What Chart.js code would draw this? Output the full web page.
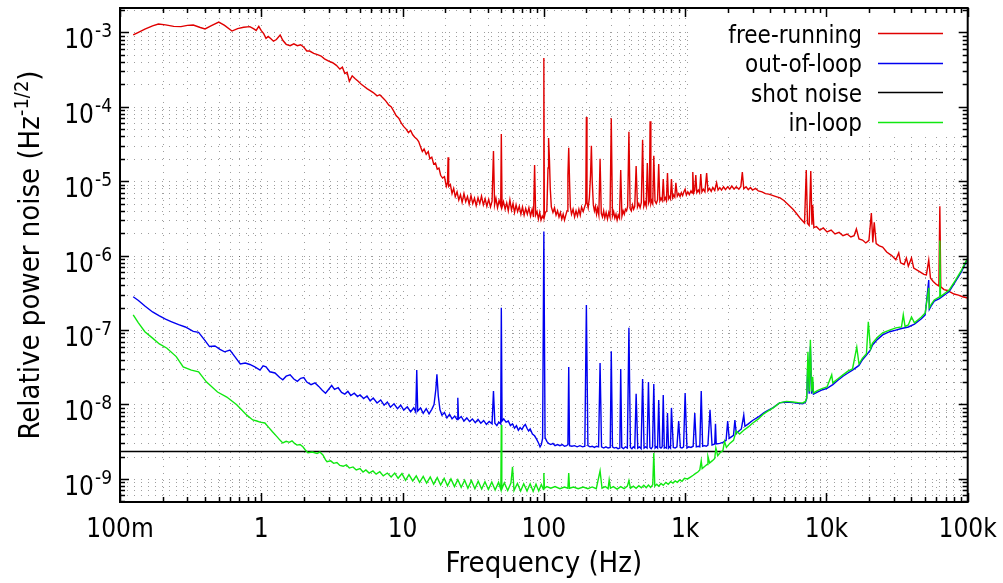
<!DOCTYPE html>
<html><head><meta charset="utf-8">
<script src="https://cdn.jsdelivr.net/npm/chart.js@4/dist/chart.umd.min.js"></script>
<style>html,body{margin:0;padding:0;background:#fff;}canvas{display:block;}</style>
</head><body>
<canvas id="c" width="1003" height="583"></canvas>
<script>
// ---------------- DATA (frequency in Hz, relative power noise in Hz^-1/2) ----------------
const seriesNames = ['free-running', 'out-of-loop', 'shot noise', 'in-loop'];

const freeRunning = [
[0.124,9.2e-4],[0.135,1.0e-3],[0.15,1.1e-3],[0.17,1.22e-3],[0.187,1.29e-3],[0.21,1.26e-3],[0.24,1.2e-3],[0.27,1.19e-3],
[0.30,1.24e-3],[0.33,1.25e-3],[0.37,1.16e-3],[0.40,1.11e-3],[0.44,1.22e-3],[0.50,1.37e-3],[0.55,1.24e-3],[0.62,1.04e-3],
[0.68,1.12e-3],[0.75,1.17e-3],[0.83,1.19e-3],[0.88,1.12e-3],[0.92,1.06e-3],[0.96,1.2e-3],[1.0,1.05e-3],[1.04,9.6e-4],
[1.08,8.3e-4],[1.12,8.8e-4],[1.17,8.2e-4],[1.22,7.6e-4],[1.28,8.0e-4],[1.36,9.2e-4],[1.42,7.8e-4],[1.5,6.9e-4],
[1.6,6.6e-4],[1.7,7.0e-4],[1.8,6.6e-4],[1.9,6.8e-4],[2.0,6.3e-4],[2.1,5.6e-4],[2.2,5.6e-4],[2.35,5.2e-4],[2.5,5.0e-4],
[2.65,4.8e-4],[2.8,4.4e-4],[3.0,4.1e-4],[3.2,3.9e-4],[3.4,3.6e-4],[3.6,3.2e-4],[3.75,3.4e-4],[3.9,2.8e-4],[4.05,2.9e-4],
[4.2,2.2e-4],[4.4,2.6e-4],[4.6,2.4e-4],[4.85,2.2e-4],[5.1,2.0e-4],[5.3,1.9e-4],[5.6,1.75e-4],[5.9,1.65e-4],[6.2,1.55e-4],
[6.6,1.4e-4],[6.9,1.45e-4],[7.3,1.3e-4],[7.6,1.2e-4],[8.0,1.05e-4],[8.3,1.0e-4],[8.7,8.6e-5],[9.0,7.6e-5],[9.4,7.0e-5],
[9.8,6.0e-5],[10.2,5.4e-5],[10.6,5.0e-5],[11.0,4.5e-5],[11.4,4.8e-5],[11.8,4.2e-5],[12.2,3.9e-5],[12.6,3.7e-5],[13.0,3.4e-5],
[13.4,2.9e-5],[13.8,2.5e-5],[14.2,2.7e-5],[14.7,2.3e-5],[15.2,2.5e-5],[15.6,2.0e-5],[16.1,2.1e-5],[16.6,1.7e-5],[17.1,1.75e-5],
[17.6,1.45e-5],[18.1,1.5e-5],[18.6,1.2e-5],[19.2,1.1e-5],[19.8,1.15e-5],[20.4,8.5e-6],[20.8,9.5e-6],[21.0,2.1e-5],[21.2,8.5e-6],
[21.8,9.0e-6],[22.4,6.8e-6],[23.0,8.0e-6],[23.6,6.2e-6],[24.3,7.2e-6],[25.0,5.6e-6],[25.7,6.6e-6],[26.4,5.2e-6],[27.2,6.8e-6],
[28.0,5.3e-6],[28.8,6.2e-6],[29.6,4.9e-6],[30.5,6.4e-6],[31.4,5.0e-6],[32.3,5.9e-6],[33.2,4.7e-6],[34.2,6.0e-6],[35.2,5.0e-6],
[36.2,6.3e-6],[37.3,4.8e-6],[38.4,5.8e-6],[39.5,4.6e-6],[40.7,5.7e-6],[41.9,4.5e-6],[43.0,5.4e-6],[44.0,2.55e-5],[44.8,4.8e-6],
[45.8,5.9e-6],[47.0,4.4e-6],[48.2,5.5e-6],[49.5,4.7e-6],[50.0,4.3e-5],[50.6,4.5e-6],[51.8,5.3e-6],[53.2,4.2e-6],[54.6,5.1e-6],
[56.0,4.0e-6],[57.5,5.6e-6],[59.0,4.1e-6],[60.5,5.0e-6],[62.0,3.8e-6],[63.6,4.8e-6],[65.2,3.9e-6],[67.0,4.6e-6],[68.8,3.6e-6],
[70.6,4.5e-6],[72.5,3.5e-6],[74.4,4.3e-6],[76.4,3.6e-6],[78.4,4.4e-6],[80.5,3.4e-6],[82.6,4.2e-6],[84.5,3.3e-6],[86.0,1.65e-5],
[87.5,3.5e-6],[89.5,3.9e-6],[91.5,3.1e-6],[93.5,3.8e-6],[95.5,3.0e-6],[97.5,3.4e-6],[99.3,3.2e-6],[100,4.5e-4],[100.8,3.3e-6],
[102.5,3.8e-6],[105,4.0e-6],[107,1.5e-5],[108,3.8e-5],[109.5,2.0e-5],[111,8e-6],[113,4.5e-6],[116,3.8e-6],[119,4.4e-6],
[122,3.5e-6],[125,4.0e-6],[128,3.3e-6],[131,3.8e-6],[134,3.1e-6],[137,3.6e-6],[140,3.0e-6],[143,3.5e-6],[146,4.0e-6],
[148,1.2e-5],[150,2.8e-5],[152,1.0e-5],[154,4.5e-6],[157,3.6e-6],[161,4.2e-6],[165,3.3e-6],[169,4.0e-6],[173,3.4e-6],
[177,4.2e-6],[181,3.5e-6],[185,4.5e-6],[190,3.9e-6],[195,4.6e-6],[198,5.0e-6],[200,7.3e-5],[202,5.2e-6],[206,4.4e-6],
[210,6.0e-6],[214,1.2e-5],[217,3.0e-5],[220,1.0e-5],[224,4.8e-6],[228,4.0e-6],[232,4.6e-6],[236,3.6e-6],[240,4.3e-6],
[245,3.5e-6],[250,2.0e-5],[255,3.7e-6],[260,3.3e-6],[265,4.0e-6],[270,3.2e-6],[276,3.8e-6],[282,3.1e-6],[288,3.8e-6],
[294,3.3e-6],[300,7.0e-5],[306,3.4e-6],[312,3.9e-6],[318,3.2e-6],[324,3.6e-6],[330,3.0e-6],[336,3.5e-6],[343,3.2e-6],
[350,1.41e-5],[357,3.4e-6],[364,4.0e-6],[371,3.6e-6],[378,4.2e-6],[385,4.0e-6],[392,4.6e-6],[400,4.6e-5],[408,4.3e-6],
[416,4.0e-6],[424,4.8e-6],[432,4.2e-6],[440,4.6e-6],[450,1.6e-5],[460,4.5e-6],[470,5.0e-6],[480,4.4e-6],[490,5.2e-6],
[500,3.6e-5],[510,4.6e-6],[520,5.2e-6],[530,4.6e-6],[540,1.75e-5],[550,5.0e-6],[558,5.4e-6],[565,6.4e-5],[572,5.0e-6],
[580,5.5e-6],[590,5.0e-6],[600,2.2e-5],[612,5.4e-6],[625,5.0e-6],[638,5.6e-6],[650,1.7e-5],[662,5.4e-6],[675,5.9e-6],
[688,5.5e-6],[700,1.07e-5],[712,5.6e-6],[725,6.0e-6],[737,5.5e-6],[750,1.29e-5],[762,5.8e-6],[775,6.2e-6],[787,5.8e-6],
[800,1.07e-5],[815,6.0e-6],[830,6.5e-6],[845,6.1e-6],[860,9.5e-6],[880,6.3e-6],[900,6.8e-6],[920,6.2e-6],[940,7.0e-6],
[960,6.4e-6],[980,7.2e-6],[1000,7.8e-6],[1020,6.5e-6],[1045,7.2e-6],[1070,6.6e-6],[1100,7.4e-6],[1120,6.9e-6],[1133,1.33e-5],
[1150,7.0e-6],[1170,7.6e-6],[1190,1.21e-5],[1210,7.0e-6],[1240,7.6e-6],[1265,7.0e-6],[1290,1.25e-5],[1315,7.2e-6],[1345,7.8e-6],
[1380,7.2e-6],[1420,1.29e-5],[1450,7.4e-6],[1490,8.0e-6],[1530,7.3e-6],[1570,8.2e-6],[1620,7.5e-6],[1670,9.5e-6],[1710,7.6e-6],
[1760,8.2e-6],[1810,7.6e-6],[1870,8.4e-6],[1930,7.7e-6],[2000,8.4e-6],[2070,7.8e-6],[2140,8.6e-6],[2220,7.8e-6],[2300,8.4e-6],
[2400,7.8e-6],[2480,8.5e-6],[2540,1.33e-5],[2600,7.9e-6],[2700,8.4e-6],[2800,7.7e-6],[2900,8.2e-6],[3000,7.6e-6],[3150,8.0e-6],
[3300,7.4e-6],[3500,7.2e-6],[3700,6.8e-6],[3900,6.7e-6],[4100,6.5e-6],[4400,6.2e-6],[4700,5.95e-6],[5000,5.5e-6],[5400,4.8e-6],
[5800,4.2e-6],[6100,3.74e-6],[6500,3.2e-6],[7000,2.75e-6],[7200,1.41e-5],[7350,2.7e-6],[7550,2.55e-6],[7750,1.37e-5],[7900,2.6e-6],
[8000,4.8e-6],[8150,2.38e-6],[8500,2.45e-6],[9000,2.2e-6],[9500,2.35e-6],[10100,2.08e-6],[10800,2.2e-6],[11500,1.95e-6],
[12300,2.05e-6],[13100,1.85e-6],[14000,1.95e-6],[14900,1.78e-6],[15700,1.85e-6],[16300,2.28e-6],[17000,1.68e-6],[18000,1.62e-6],
[19000,1.48e-6],[20000,1.6e-6],[20800,3.74e-6],[21300,1.5e-6],[21800,2.8e-6],[22500,1.45e-6],[23700,1.35e-6],[25000,1.3e-6],
[26700,1.12e-6],[29000,1.0e-6],[31000,8.8e-7],[32500,1.09e-6],[33500,8.0e-7],[35500,7.6e-7],[36800,9.3e-7],[38000,7.2e-7],
[40000,9.3e-7],[41500,6.8e-7],[45000,6.2e-7],[49000,5.6e-7],[51000,5.5e-7],[53000,8.7e-7],[54500,5.0e-7],[57000,4.5e-7],
[60000,4.1e-7],[62500,3.9e-7],[63500,4.6e-6],[64500,3.8e-7],[68000,3.5e-7],[72000,3.4e-7],[75000,3.25e-7],[80000,3.05e-7],
[86000,2.95e-7],[92000,2.8e-7],[100000,2.7e-7]
];

const outOfLoop = [
[0.124,2.8e-7],[0.135,2.5e-7],[0.15,2.1e-7],[0.17,1.75e-7],[0.19,1.55e-7],[0.21,1.4e-7],[0.23,1.3e-7],[0.26,1.18e-7],
[0.29,1.1e-7],[0.33,9.6e-8],[0.36,9.3e-8],[0.40,7.2e-8],[0.43,6.0e-8],[0.47,6.1e-8],[0.51,5.5e-8],[0.55,5.1e-8],[0.60,5.4e-8],
[0.65,4.4e-8],[0.71,3.5e-8],[0.77,3.6e-8],[0.83,3.45e-8],[0.90,3.2e-8],[0.98,2.9e-8],[1.03,3.3e-8],[1.08,3.2e-8],[1.15,2.75e-8],
[1.25,2.65e-8],[1.35,2.3e-8],[1.42,2.15e-8],[1.5,2.4e-8],[1.6,2.5e-8],[1.7,2.2e-8],[1.8,2.05e-8],[1.9,2.25e-8],[2.0,2.3e-8],
[2.1,2.0e-8],[2.25,1.85e-8],[2.4,1.95e-8],[2.55,1.75e-8],[2.7,1.55e-8],[2.85,1.42e-8],[3.0,1.6e-8],[3.15,1.8e-8],[3.3,1.6e-8],
[3.5,1.68e-8],[3.7,1.45e-8],[3.9,1.38e-8],[4.1,1.5e-8],[4.3,1.32e-8],[4.55,1.42e-8],[4.8,1.28e-8],[5.0,1.35e-8],[5.3,1.2e-8],
[5.6,1.3e-8],[5.9,1.12e-8],[6.2,1.22e-8],[6.6,1.05e-8],[7.0,1.15e-8],[7.4,9.8e-9],[7.8,1.08e-8],[8.2,9.2e-9],[8.7,1.02e-8],
[9.2,8.8e-9],[9.7,9.8e-9],[10.2,8.4e-9],[10.8,9.3e-9],[11.4,8.0e-9],[12.0,9.0e-9],[12.4,7.9e-9],[12.6,2.9e-8],[12.8,8.2e-9],
[13.4,9.0e-9],[14.0,7.6e-9],[14.7,8.8e-9],[15.4,7.5e-9],[16.1,8.6e-9],[16.7,1.0e-8],[17.2,1.6e-8],[17.5,2.55e-8],[17.9,1.3e-8],
[18.4,8.5e-9],[19.0,7.2e-9],[19.8,7.8e-9],[20.6,6.6e-9],[21.5,7.4e-9],[22.4,6.4e-9],[23.4,7.0e-9],[24.3,6.3e-9],[24.6,1.23e-8],
[24.9,6.4e-9],[26.0,6.9e-9],[27.2,6.0e-9],[28.5,6.6e-9],[29.8,5.9e-9],[31.2,6.4e-9],[32.7,5.7e-9],[34.2,6.3e-9],[35.8,5.6e-9],
[37.5,6.1e-9],[39.2,5.4e-9],[41.0,5.9e-9],[43.0,5.5e-9],[44.0,1.52e-8],[45.0,5.6e-9],[46.5,5.2e-9],[48.0,5.8e-9],[49.5,5.5e-9],
[50.0,2.0e-7],[50.6,6.0e-9],[52,6.4e-9],[54,5.8e-9],[56,6.0e-9],[58,5.2e-9],[60,5.5e-9],[62,4.8e-9],[64,5.2e-9],[66,4.5e-9],
[68,4.9e-9],[70,4.6e-9],[72,5.1e-9],[74,5.4e-9],[76,4.8e-9],[78,4.4e-9],[80,4.7e-9],[83,4.0e-9],[86,3.8e-9],[89,3.4e-9],
[92,3.0e-9],[94,2.7e-9],[96,2.9e-9],[98,3.5e-9],[100,2.1e-6],[102,3.6e-9],[105,3.2e-9],[108,3.0e-9],[112,2.9e-9],[116,3.0e-9],
[120,2.8e-9],[125,2.9e-9],[130,2.8e-9],[135,2.9e-9],[140,2.75e-9],[145,2.8e-9],[148,2.9e-9],[150,3.2e-8],[152,2.8e-9],
[158,2.75e-9],[165,2.8e-9],[172,2.7e-9],[180,2.8e-9],[188,2.7e-9],[195,2.75e-9],[200,2.17e-7],[205,2.8e-9],[212,2.7e-9],
[220,2.75e-9],[228,2.65e-9],[236,2.75e-9],[244,2.7e-9],[250,3.6e-8],[256,2.7e-9],[265,2.6e-9],[275,2.7e-9],[285,2.6e-9],
[295,2.65e-9],[300,5.2e-8],[306,2.7e-9],[315,2.6e-9],[325,2.65e-9],[335,2.55e-9],[345,2.6e-9],[350,3.0e-8],[356,2.65e-9],
[366,2.55e-9],[378,2.7e-9],[390,2.6e-9],[400,1.07e-7],[410,2.65e-9],[420,2.55e-9],[430,2.7e-9],[440,2.6e-9],[450,1.39e-8],
[462,2.6e-9],[475,2.7e-9],[488,2.55e-9],[500,2.2e-8],[512,2.6e-9],[525,2.7e-9],[538,2.6e-9],[550,2.0e-8],[563,2.65e-9],
[575,2.55e-9],[588,2.7e-9],[600,1.89e-8],[613,2.6e-9],[625,2.7e-9],[638,2.6e-9],[650,1.15e-8],[663,2.65e-9],[675,2.6e-9],
[688,2.7e-9],[700,1.34e-8],[712,2.6e-9],[725,2.65e-9],[738,2.6e-9],[750,7.7e-9],[763,2.6e-9],[775,2.7e-9],[788,2.6e-9],
[800,9.0e-9],[825,2.65e-9],[850,2.6e-9],[875,2.7e-9],[900,6.0e-9],[925,2.65e-9],[950,2.6e-9],[975,2.7e-9],[1000,1.43e-8],
[1030,2.6e-9],[1060,2.7e-9],[1100,2.65e-9],[1140,2.75e-9],[1170,7.7e-9],[1200,2.7e-9],[1240,2.75e-9],[1270,2.7e-9],
[1300,1.52e-8],[1330,2.75e-9],[1370,2.8e-9],[1410,2.75e-9],[1450,2.85e-9],[1500,8.5e-9],[1550,2.85e-9],[1620,2.95e-9],
[1640,5.5e-9],[1660,2.95e-9],[1760,3.0e-9],[1850,3.1e-9],[1950,3.3e-9],[2000,6.0e-9],[2050,3.5e-9],[2200,3.85e-9],[2250,6.2e-9],
[2300,4.1e-9],[2500,4.7e-9],[2600,7.2e-9],[2650,5.1e-9],[2800,5.5e-9],[3000,6.1e-9],[3300,6.8e-9],[3600,7.7e-9],[3800,8.2e-9],
[4200,9.1e-9],[4660,1.05e-8],[5200,1.08e-8],[5800,1.06e-8],[6300,1.04e-8],[6800,1.02e-8],[7100,1.07e-8],[7250,1.2e-8],
[7400,4.0e-8],[7550,1.4e-8],[7700,6.0e-8],[7850,1.4e-8],[8000,2.0e-8],[8100,1.38e-8],[8700,1.48e-8],[9400,1.58e-8],
[10100,1.65e-8],[11100,1.85e-8],[12000,2.1e-8],[13100,2.4e-8],[14200,2.65e-8],[15300,2.9e-8],[17000,3.35e-8],[18000,4.0e-8],
[19200,4.6e-8],[20500,5.4e-8],[21200,6.3e-8],[23000,7.5e-8],[25000,8.6e-8],[28000,9.5e-8],[31000,1.0e-7],[34000,1.05e-7],
[38000,1.1e-7],[42000,1.2e-7],[47000,1.42e-7],[50000,1.6e-7],[53000,4.7e-7],[53500,1.9e-7],[55000,2.1e-7],[58000,2.45e-7],
[63000,2.65e-7],[70000,3.05e-7],[74000,3.3e-7],[82000,4.5e-7],[90000,6.0e-7],[96000,7.7e-7],[100000,9.0e-7]
];

const shotNoise = [[0.1,2.33e-9],[100000,2.33e-9]];

const inLoop = [
[0.124,1.6e-7],[0.135,1.25e-7],[0.15,9.5e-8],[0.17,7.8e-8],[0.19,6.5e-8],[0.215,5.7e-8],[0.25,4.4e-8],[0.28,3.2e-8],
[0.32,2.9e-8],[0.36,2.75e-8],[0.41,2.0e-8],[0.49,1.47e-8],[0.57,1.26e-8],[0.67,9.9e-9],[0.79,7.2e-9],[0.87,6.2e-9],
[0.93,6.0e-9],[0.98,5.8e-9],[1.06,5.65e-9],[1.12,5.0e-9],[1.2,4.3e-9],[1.29,3.7e-9],[1.36,3.3e-9],[1.42,3.05e-9],[1.5,3.2e-9],
[1.58,3.1e-9],[1.65,3.25e-9],[1.72,3.0e-9],[1.79,2.85e-9],[1.88,2.9e-9],[1.97,2.7e-9],[2.05,2.45e-9],[2.14,2.25e-9],[2.3,2.3e-9],
[2.48,2.2e-9],[2.6,2.3e-9],[2.73,2.1e-9],[2.85,1.8e-9],[2.92,1.7e-9],[3.1,1.75e-9],[3.25,1.62e-9],[3.43,1.66e-9],[3.6,1.52e-9],
[3.8,1.48e-9],[4.0,1.55e-9],[4.2,1.4e-9],[4.46,1.45e-9],[4.7,1.32e-9],[5.0,1.38e-9],[5.25,1.24e-9],[5.5,1.32e-9],[5.8,1.2e-9],
[6.17,1.28e-9],[6.5,1.16e-9],[6.9,1.25e-9],[7.3,1.1e-9],[7.8,1.2e-9],[8.3,1.06e-9],[8.8,1.2e-9],[9.3,1.02e-9],[9.9,1.18e-9],
[10.5,9.6e-10],[11.1,1.14e-9],[11.8,9.4e-10],[12.5,1.1e-9],[13.2,9.0e-10],[14.0,1.08e-9],[14.8,8.8e-10],[15.7,1.06e-9],
[16.6,8.5e-10],[17.6,1.04e-9],[18.6,8.3e-10],[19.7,1.02e-9],[20.8,8.1e-10],[22.0,1.0e-9],[23.3,7.9e-10],[24.6,9.8e-10],
[26.0,7.7e-10],[27.5,9.6e-10],[29.0,7.5e-10],[30.7,9.5e-10],[32.5,7.4e-10],[34.3,9.3e-10],[36.3,7.3e-10],[38.3,9.2e-10],
[40.5,7.2e-10],[42.8,9.1e-10],[45.2,7.1e-10],[47.8,9.0e-10],[49.6,7.2e-10],[50.0,5.3e-9],[50.4,7.3e-10],[52.5,8.9e-10],
[55.5,7.0e-10],[58.5,8.8e-10],[60.0,1.45e-9],[61.5,7.0e-10],[65,8.7e-10],[68.5,6.9e-10],[72,8.6e-10],[76,6.9e-10],[80,8.6e-10],
[84,6.8e-10],[88,8.5e-10],[92,6.9e-10],[96,8.4e-10],[99.4,7.2e-10],[100,1.2e-9],[101,7.5e-10],[105,7.9e-10],[112,7.5e-10],
[120,7.9e-10],[130,7.4e-10],[140,7.8e-10],[148,7.5e-10],[150,1.2e-9],[152,7.5e-10],[162,7.8e-10],[175,7.4e-10],[190,7.8e-10],
[205,7.4e-10],[220,7.8e-10],[235,7.4e-10],[250,1.28e-9],[258,7.5e-10],[272,7.9e-10],[285,7.4e-10],[290,9.7e-10],[296,7.5e-10],
[310,7.9e-10],[330,7.3e-10],[350,7.9e-10],[370,7.4e-10],[390,8.0e-10],[400,9.5e-10],[410,7.5e-10],[430,8.0e-10],[450,7.5e-10],
[470,8.1e-10],[490,7.6e-10],[510,8.2e-10],[530,7.6e-10],[550,8.3e-10],[570,7.7e-10],[590,8.4e-10],[600,2.23e-9],[610,8.0e-10],
[630,8.5e-10],[650,8.0e-10],[675,8.7e-10],[700,8.2e-10],[730,9.0e-10],[760,8.5e-10],[790,9.2e-10],[820,8.8e-10],[850,9.4e-10],
[880,9.0e-10],[915,9.7e-10],[950,9.3e-10],[990,1.02e-9],[1040,1.0e-9],[1090,1.06e-9],[1140,1.12e-9],[1180,1.18e-9],
[1230,1.24e-9],[1270,1.32e-9],[1300,1.75e-9],[1320,1.38e-9],[1380,1.48e-9],[1430,1.56e-9],[1450,2.0e-9],[1490,1.64e-9],
[1560,1.76e-9],[1620,1.88e-9],[1650,2.6e-9],[1700,2.05e-9],[1760,2.23e-9],[1850,2.4e-9],[1900,3.2e-9],[1960,2.65e-9],
[2070,3.0e-9],[2200,3.3e-9],[2300,4.4e-9],[2430,4.0e-9],[2600,4.5e-9],[2800,5.0e-9],[3000,5.6e-9],[3300,6.4e-9],[3600,7.5e-9],
[3800,8.0e-9],[4200,9.0e-9],[4660,1.05e-8],[5200,1.1e-8],[5800,1.08e-8],[6300,1.06e-8],[6800,1.05e-8],[7100,1.1e-8],
[7250,1.23e-8],[7400,5.1e-8],[7550,1.5e-8],[7700,7.4e-8],[7850,1.5e-8],[8000,2.35e-8],[8100,1.43e-8],[8700,1.55e-8],
[9400,1.65e-8],[10100,1.72e-8],[10900,2.5e-8],[11100,1.95e-8],[12000,2.2e-8],[13100,2.5e-8],[14200,2.8e-8],[15300,3.0e-8],
[16400,5.9e-8],[17000,3.5e-8],[18000,4.2e-8],[19200,4.8e-8],[19800,1.29e-7],[20500,5.6e-8],[21200,6.7e-8],[23000,8.0e-8],
[25000,9.2e-8],[28000,1.0e-7],[31000,1.07e-7],[34000,1.1e-7],[35000,1.6e-7],[36000,1.12e-7],[38000,1.17e-7],[40000,1.5e-7],
[42000,1.25e-7],[45000,1.4e-7],[47000,1.5e-7],[50000,1.7e-7],[53000,3.7e-7],[53500,2.0e-7],[55000,2.2e-7],[58000,2.54e-7],
[63000,2.78e-7],[63500,1.6e-6],[64200,2.82e-7],[70000,3.2e-7],[74000,3.46e-7],[82000,4.7e-7],[90000,6.3e-7],[96000,8.0e-7],
[100000,9.3e-7]
];

// Axis ranges and tick labels
const xRange = [0.1, 1e5];
const yRange = [4.9e-10, 2.12e-3];
const xMajorTicks = [0.1, 1, 10, 100, 1e3, 1e4, 1e5];
const xTickLabels = ['100m', '1', '10', '100', '1k', '10k', '100k'];
const yMajorExponents = [-9, -8, -7, -6, -5, -4, -3];
const xTitle = 'Frequency (Hz)';
const yTitleMain = 'Relative power noise (Hz';
const yTitleSup = '-1/2';
const yTitleEnd = ')';

// ---------------- STYLE ----------------
const COLORS = ['#e00000', '#0000f0', '#000000', '#10e810'];
const FAM = '"DejaVu Sans Condensed", "DejaVu Sans", sans-serif';
const f = px => px + 'px ' + FAM;

function minorList(lo, hi) {
  const out = [];
  for (let e = Math.floor(Math.log10(lo)) - 1; e <= Math.ceil(Math.log10(hi)); e++) {
    for (let m = 1; m <= 9; m++) {
      const v = m * Math.pow(10, e);
      if (v >= lo * 0.9999 && v <= hi * 1.0001) out.push({ v, major: m === 1 });
    }
  }
  return out;
}

const toPts = arr => arr.map(p => ({ x: p[0], y: p[1] }));

const gnuplotLook = {
  id: 'gnuplotLook',
  beforeDatasetsDraw(chart) {
    const { ctx, chartArea: a, scales: { x, y } } = chart;
    ctx.save();
    ctx.strokeStyle = 'rgba(0,0,0,0.38)';
    ctx.lineWidth = 1;
    ctx.setLineDash([1, 6]);
    for (const t of minorList(xRange[0], xRange[1])) {
      const px = Math.round(x.getPixelForValue(t.v)) + 0.5;
      if (px < a.left + 2 || px > a.right - 2) continue;
      ctx.beginPath(); ctx.moveTo(px, a.bottom); ctx.lineTo(px, a.top); ctx.stroke();
    }
    for (const t of minorList(yRange[0], yRange[1])) {
      const py = Math.round(y.getPixelForValue(t.v)) + 0.5;
      if (py < a.top + 2 || py > a.bottom - 2) continue;
      ctx.beginPath(); ctx.moveTo(a.left, py); ctx.lineTo(a.right, py); ctx.stroke();
    }
    ctx.setLineDash([]);
    // opaque key box
    ctx.fillStyle = '#fff';
    ctx.fillRect(694, a.top + 1, a.right - 695, 128);
    ctx.restore();
  },
  afterDatasetsDraw(chart) {
    const { ctx, chartArea: a, scales: { x, y } } = chart;
    ctx.save();
    ctx.strokeStyle = '#000';
    // ticks (inward, mirrored)
    ctx.lineWidth = 1.5;
    for (const t of minorList(xRange[0], xRange[1])) {
      const px = Math.round(x.getPixelForValue(t.v)) + 0.5;
      const L = t.major ? 9 : 5;
      ctx.beginPath();
      ctx.moveTo(px, a.bottom); ctx.lineTo(px, a.bottom - L);
      ctx.moveTo(px, a.top); ctx.lineTo(px, a.top + L);
      ctx.stroke();
    }
    for (const t of minorList(yRange[0], yRange[1])) {
      const py = Math.round(y.getPixelForValue(t.v)) + 0.5;
      const L = t.major ? 9 : 5;
      ctx.beginPath();
      ctx.moveTo(a.left, py); ctx.lineTo(a.left + L, py);
      ctx.moveTo(a.right, py); ctx.lineTo(a.right - L, py);
      ctx.stroke();
    }
    // frame
    ctx.lineWidth = 2;
    ctx.strokeRect(a.left, a.top, a.right - a.left, a.bottom - a.top);

    ctx.fillStyle = '#000';
    ctx.textBaseline = 'alphabetic';
    // x tick labels
    ctx.font = f(26);
    ctx.textAlign = 'center';
    xMajorTicks.forEach((v, i) => {
      ctx.fillText(xTickLabels[i], x.getPixelForValue(v), a.bottom + 35);
    });
    // y tick labels  10^e
    ctx.textAlign = 'left';
    yMajorExponents.forEach(e => {
      const py = y.getPixelForValue(Math.pow(10, e));
      ctx.font = f(26); const w1 = ctx.measureText('10').width;
      ctx.font = f(19); const sup = String(e); const w2 = ctx.measureText(sup).width;
      const x0 = 111 - w1 - w2;
      ctx.font = f(26); ctx.fillText('10', x0, py + 16);
      ctx.font = f(19); ctx.fillText(sup, x0 + w1 + 1, py + 5);
    });
    // x title
    ctx.font = f(29);
    ctx.textAlign = 'center';
    ctx.fillText(xTitle, (a.left + a.right) / 2, 572);
    // y title (rotated)
    ctx.save();
    ctx.translate(39, 255);
    ctx.rotate(-Math.PI / 2);
    ctx.textAlign = 'left';
    ctx.font = f(29); const wa = ctx.measureText(yTitleMain).width; const wc = ctx.measureText(yTitleEnd).width;
    ctx.font = f(20); const wb = ctx.measureText(yTitleSup).width;
    let sx = -(wa + wb + wc) / 2;
    ctx.font = f(29); ctx.fillText(yTitleMain, sx, 0); sx += wa;
    ctx.font = f(20); ctx.fillText(yTitleSup, sx, -11); sx += wb;
    ctx.font = f(29); ctx.fillText(yTitleEnd, sx, 0);
    ctx.restore();
    // key
    ctx.font = f(24);
    ctx.textAlign = 'right';
    chart.data.datasets.forEach((ds, i) => {
      const ly = 33 + i * 29.6;
      ctx.fillStyle = '#000';
      ctx.fillText(ds.label, 862, ly + 9.5);
      ctx.strokeStyle = ds.borderColor;
      ctx.lineWidth = 1.5;
      ctx.beginPath(); ctx.moveTo(878, Math.round(ly) + 0.5); ctx.lineTo(943, Math.round(ly) + 0.5); ctx.stroke();
    });
    ctx.restore();
  }
};

const seriesData = [freeRunning, outOfLoop, shotNoise, inLoop];
const drawOrder = [4, 3, 2, 1];

new Chart(document.getElementById('c'), {
  type: 'line',
  data: {
    datasets: seriesData.map((arr, i) => ({
      label: seriesNames[i],
      data: toPts(arr),
      borderColor: COLORS[i],
      backgroundColor: COLORS[i],
      borderWidth: i === 2 ? 1.5 : 1.4,
      pointRadius: 0,
      tension: 0,
      fill: false,
      order: drawOrder[i]
    }))
  },
  options: {
    responsive: false,
    devicePixelRatio: 1,
    animation: false,
    events: [],
    layout: { autoPadding: false, padding: { left: 120, right: 1003 - 967.7, top: 8, bottom: 583 - 502 } },
    plugins: { legend: { display: false }, tooltip: { enabled: false }, title: { display: false } },
    scales: {
      x: { type: 'logarithmic', min: xRange[0], max: xRange[1], display: false },
      y: { type: 'logarithmic', min: yRange[0], max: yRange[1], display: false }
    }
  },
  plugins: [gnuplotLook]
});
</script>
</body></html>
